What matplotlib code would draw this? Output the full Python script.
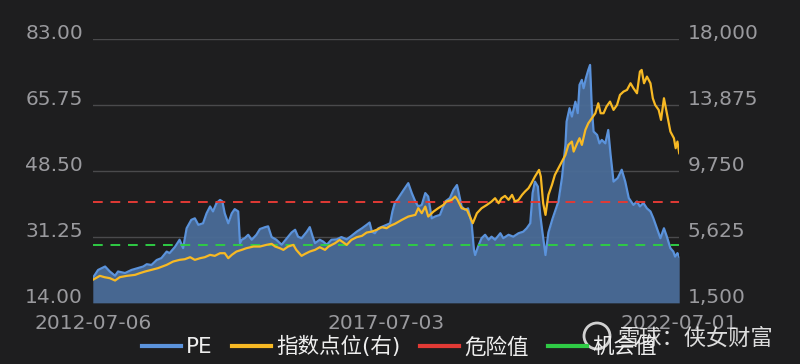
import numpy as np
import matplotlib.pyplot as plt
from matplotlib.lines import Line2D
from matplotlib.patches import Ellipse

plt.rcParams['font.family'] = ['DejaVu Sans', 'Noto Sans CJK SC']

# PE (left axis), decimal years
pe_t = [2012.51, 2012.60, 2012.72, 2012.80, 2012.89, 2012.94, 2013.06, 2013.17, 2013.28, 2013.37,
        2013.43, 2013.51, 2013.60, 2013.68, 2013.77, 2013.82, 2013.91, 2013.99, 2014.05, 2014.11,
        2014.19, 2014.25, 2014.31, 2014.39, 2014.45, 2014.51, 2014.56, 2014.62, 2014.68, 2014.72,
        2014.76, 2014.82, 2014.88, 2014.93, 2014.99, 2015.02, 2015.05, 2015.10, 2015.16, 2015.22,
        2015.30, 2015.36, 2015.45, 2015.50, 2015.56, 2015.64, 2015.73, 2015.82, 2015.90, 2015.96,
        2016.01, 2016.07, 2016.16, 2016.21, 2016.26, 2016.30, 2016.38, 2016.44, 2016.50, 2016.58,
        2016.67, 2016.75, 2016.84, 2016.92, 2017.01, 2017.10, 2017.18, 2017.23, 2017.27, 2017.32,
        2017.38, 2017.46, 2017.52, 2017.58, 2017.62, 2017.66, 2017.72, 2017.81, 2017.89, 2017.95,
        2018.01, 2018.06, 2018.12, 2018.18, 2018.23, 2018.29, 2018.35, 2018.43, 2018.52, 2018.60,
        2018.66, 2018.72, 2018.74, 2018.80, 2018.86, 2018.91, 2018.97, 2019.01, 2019.03, 2019.08,
        2019.14, 2019.20, 2019.26, 2019.31, 2019.37, 2019.46, 2019.51, 2019.60, 2019.68, 2019.77,
        2019.85, 2019.91, 2019.97, 2020.01, 2020.05, 2020.10, 2020.14, 2020.18, 2020.23, 2020.28,
        2020.35, 2020.45, 2020.51, 2020.57, 2020.59, 2020.64, 2020.68, 2020.74, 2020.78, 2020.81,
        2020.85, 2020.88, 2020.92, 2020.96, 2020.99, 2021.02, 2021.05, 2021.11, 2021.15, 2021.19,
        2021.25, 2021.30, 2021.34, 2021.39, 2021.46, 2021.53, 2021.59, 2021.65, 2021.73, 2021.79,
        2021.84, 2021.90, 2021.96, 2022.02, 2022.07, 2022.13, 2022.19, 2022.25, 2022.30, 2022.36,
        2022.41, 2022.44, 2022.48, 2022.51]
pe = [20.5, 22.6, 23.5, 22.2, 21.1, 22.2, 21.8, 22.6, 23.1, 23.5,
      24.1, 23.9, 25.2, 25.7, 27.4, 27.0, 28.6, 30.5, 28.3, 33.5,
      35.7, 36.1, 34.4, 34.8, 37.4, 39.2, 37.9, 40.1, 40.9, 40.5,
      37.4, 34.8, 37.4, 38.5, 37.9, 29.6, 30.5, 30.9, 31.8, 30.5,
      31.8, 33.3, 33.8, 34.0, 31.2, 30.5, 29.2, 30.9, 32.4, 33.1,
      31.3, 30.9, 32.6, 33.8, 31.3, 29.6, 30.5, 30.0, 29.2, 30.5,
      30.6, 31.2, 30.6, 31.5, 32.6, 33.5, 34.4, 35.0, 32.6, 32.2,
      33.5, 34.0, 34.4, 34.8, 37.9, 40.1, 41.4, 43.5, 45.3, 42.7,
      40.5, 39.2, 39.6, 42.7, 41.8, 36.1, 36.6, 37.0, 40.5, 41.4,
      43.5, 44.8, 43.5, 39.2, 38.3, 38.7, 34.8, 27.9, 26.5, 28.7,
      30.9, 31.8, 30.5, 31.3, 30.5, 32.2, 30.9, 31.8, 31.3, 32.2,
      32.6, 33.5, 34.8, 42.7, 45.7, 44.4, 37.0, 32.2, 26.5, 32.4,
      36.0, 40.5, 46.6, 55.3, 61.4, 64.9, 62.7, 66.6, 63.6, 71.0,
      72.3, 70.1, 72.8, 74.9, 76.2, 64.9, 58.8, 57.9, 55.7, 56.6,
      55.7, 59.2, 52.7, 45.7, 46.6, 48.8, 45.7, 41.4, 39.6, 40.5,
      39.2, 40.1, 38.7, 37.9, 36.1, 33.5, 30.9, 33.5, 31.3, 28.3,
      27.4, 26.1, 27.0, 26.1]

# index level (right axis)
idx_t = [2012.51, 2012.63, 2012.71, 2012.80, 2012.89, 2012.97, 2013.09, 2013.23, 2013.31, 2013.40,
         2013.51, 2013.62, 2013.77, 2013.88, 2013.99, 2014.08, 2014.17, 2014.25, 2014.34, 2014.42,
         2014.51, 2014.59, 2014.68, 2014.76, 2014.82, 2014.88, 2014.96, 2015.05, 2015.13, 2015.25,
         2015.36, 2015.47, 2015.56, 2015.62, 2015.70, 2015.76, 2015.84, 2015.93, 2015.98, 2016.07,
         2016.13, 2016.21, 2016.30, 2016.38, 2016.47, 2016.53, 2016.64, 2016.72, 2016.84, 2016.92,
         2017.01, 2017.10, 2017.18, 2017.27, 2017.35, 2017.44, 2017.52, 2017.58, 2017.66, 2017.78,
         2017.89, 2018.01, 2018.06, 2018.12, 2018.18, 2018.23, 2018.32, 2018.40, 2018.49, 2018.54,
         2018.63, 2018.69, 2018.73, 2018.80, 2018.89, 2018.94, 2018.99, 2019.06, 2019.14, 2019.23,
         2019.31, 2019.37, 2019.43, 2019.48, 2019.54, 2019.60, 2019.66, 2019.71, 2019.77, 2019.83,
         2019.88, 2019.94, 2019.99, 2020.05, 2020.12, 2020.15, 2020.19, 2020.23, 2020.28, 2020.34,
         2020.39, 2020.45, 2020.51, 2020.57, 2020.62, 2020.68, 2020.71, 2020.77, 2020.81, 2020.85,
         2020.91, 2020.96, 2021.02, 2021.08, 2021.13, 2021.17, 2021.22, 2021.27, 2021.33, 2021.39,
         2021.45, 2021.50, 2021.56, 2021.62, 2021.68, 2021.73, 2021.79, 2021.84, 2021.87, 2021.91,
         2021.96, 2022.02, 2022.06, 2022.10, 2022.16, 2022.20, 2022.25, 2022.30, 2022.36, 2022.42,
         2022.45, 2022.48, 2022.51]
idx = [2938, 3188, 3104, 3042, 2896, 3104, 3188, 3250, 3354, 3458,
       3563, 3667, 3875, 4083, 4188, 4229, 4354, 4188, 4292, 4354,
       4500, 4438, 4604, 4604, 4292, 4500, 4708, 4813, 4917, 5021,
       5021, 5125, 5188, 5021, 4917, 4813, 5021, 5125, 4813, 4438,
       4563, 4708, 4813, 4979, 4813, 5021, 5229, 5438, 5125, 5438,
       5604, 5688, 5896, 5958, 6063, 6229, 6167, 6313, 6438, 6688,
       6896, 7000, 7417, 7104, 7521, 6896, 7208, 7417, 7625, 7833,
       7938, 8146, 7938, 7417, 7313, 6896, 6479, 7104, 7417, 7625,
       7833, 8042, 7729, 8042, 8188, 7938, 8250, 7833, 7938, 8250,
       8458, 8667, 8979, 9396, 9813, 9396, 7729, 7000, 8250, 8875,
       9500, 9917, 10333, 10750, 11375, 11583, 10958, 11479, 11792, 11375,
       12313, 12729, 13042, 13354, 13979, 13354, 13354, 13771, 14083, 13563,
       13875, 14500, 14708, 14813, 15229, 14917, 14604, 15958, 16063, 15229,
       15646, 15229, 14292, 13875, 13563, 12938, 14292, 13354, 12208, 11792,
       11167, 11583, 10854]

danger = 40.4
chance = 29.1

left_ticks = [14.00, 31.25, 48.50, 65.75, 83.00]
right_ticks = [1500, 5625, 9750, 13875, 18000]
x_ticks = [2012.51, 2017.51, 2022.51]
x_labels = ['2012-07-06', '2017-07-03', '2022-07-01']

bg = '#1e1e1f'
tick_col = '#9a9a9e'
blue = '#5b93dc'
fill = '#4a6c98'
yellow = '#f7b924'
red = '#e23a35'
green = '#2fcb45'

fig = plt.figure(figsize=(8, 3.64), dpi=100, facecolor=bg)
ax = fig.add_axes([0.116, 0.168, 0.733, 0.725])
ax.set_facecolor(bg)

ax.fill_between(pe_t, 14, pe, color=fill, alpha=0.95, lw=0)
ax.plot(pe_t, pe, color=blue, lw=1.6)
ax.axhline(danger, color=red, lw=1.4, dashes=(5, 4))
ax.axhline(chance, color=green, lw=1.4, dashes=(5, 4))

ax.set_ylim(14, 83)
ax.set_xlim(2012.51, 2022.51)
ax.set_yticks(left_ticks)
ax.set_yticklabels([f'{v:.2f}' for v in left_ticks])
ax.set_xticks(x_ticks)
ax.set_xticklabels(x_labels)
ax.grid(axis='y', color='#4a4a4c', lw=1)
ax.set_axisbelow(True)
for s in ax.spines.values():
    s.set_visible(False)
ax.tick_params(length=0, colors=tick_col, labelsize=14.5)
ax.tick_params(axis='y', pad=7)
ax.tick_params(axis='x', pad=8)
for lbl in ax.get_yticklabels():
    lbl.set_va('baseline')

ax2 = ax.twinx()
ax2.plot(idx_t, idx, color=yellow, lw=1.6)
ax2.set_ylim(1500, 18000)
ax2.set_yticks(right_ticks)
ax2.set_yticklabels([f'{v:,}' for v in right_ticks])
for s in ax2.spines.values():
    s.set_visible(False)
ax2.tick_params(length=0, colors=tick_col, labelsize=14.5, pad=6)
for lbl in ax2.get_yticklabels():
    lbl.set_va('baseline')

handles = [Line2D([], [], color=blue, lw=3),
           Line2D([], [], color=yellow, lw=3),
           Line2D([], [], color=red, lw=3),
           Line2D([], [], color=green, lw=3)]
labels = ['PE', '指数点位(右)', '危险值', '机会值']
fig.legend(handles, labels, loc='center', bbox_to_anchor=(0.499, 0.047), ncol=4,
           frameon=False, fontsize=15.5, labelcolor='#eeeeee', handlelength=1.8,
           handletextpad=0.25, columnspacing=0.9, borderpad=0, borderaxespad=0)

# watermark
fig.patches.append(Ellipse((597 / 800, 1 - 336 / 364), 26 / 800, 26 / 364,
                           transform=fig.transFigure, fill=False, ec='white',
                           lw=2, alpha=0.8))
fig.text(0.869, 0.071, '雪球：侠女财富', color='white', alpha=0.85, fontsize=16,
         ha='center', va='center', family=['Noto Sans CJK SC', 'DejaVu Sans'])

fig.savefig('out.png', dpi=100, facecolor=bg)
